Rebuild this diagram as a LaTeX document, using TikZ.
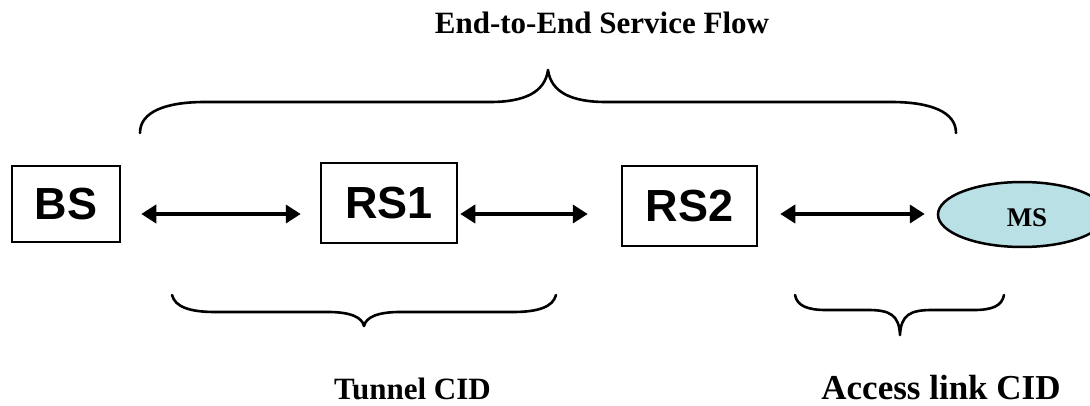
\documentclass[tikz,border=0pt]{standalone}
\usepackage{fontspec}
\setmainfont{Liberation Serif}
\newfontfamily\arialf{Liberation Sans}
\usetikzlibrary{arrows.meta,shapes.geometric}
\definecolor{msfill}{RGB}{185,224,228}
\begin{document}
\begin{tikzpicture}[x=1pt,y=-1pt,
  stn/.style={draw, line width=2.5pt, inner sep=0pt, font=\arialf\bfseries\fontsize{45}{50}\selectfont},
  lbl/.style={inner sep=0pt, font=\bfseries\fontsize{31}{36}\selectfont},
  arr/.style={line width=4pt, {Triangle[length=15pt,width=18pt]}-{Triangle[length=15pt,width=18pt]}},
  brace/.style={line width=2.6pt, line cap=round, line join=round}]
\useasboundingbox (0,0) rectangle (1090,406);
\clip (0,0) rectangle (1090,406);
% stations
\node[stn, minimum width=108pt, minimum height=76pt] (BS) at (66,204) {BS};
\node[stn, minimum width=136pt, minimum height=80pt] (RS1) at (389,203) {RS1};
\node[stn, minimum width=135pt, minimum height=80pt] (RS2) at (689.5,206) {RS2};
\node[draw, line width=2.5pt, fill=msfill, ellipse, minimum width=168pt, minimum height=65pt, inner sep=0pt] (MS) at (1022,214.5) {};
\node[inner sep=0pt, font=\bfseries\fontsize{27}{30}\selectfont] (MSt) at (1027,218) {MS};
% arrows
\coordinate (ay) at (0,214);
\draw[arr, shorten <=20pt, shorten >=19pt] (BS.east |- ay) -- (RS1.west |- ay);
\draw[arr, shorten <=2pt, shorten >=33pt] (RS1.east |- ay) -- (RS2.west |- ay);
\draw[arr, shorten <=22pt, shorten >=12pt] (RS2.east |- ay) -- (MS.west |- ay);
% braces
\draw[brace] (140,133) .. controls (140,112) and (165,102) .. (205,102) -- (490,102)
  .. controls (525,102) and (545,92) .. (548,70)
  .. controls (551,92) and (571,102) .. (606,102) -- (891,102)
  .. controls (931,102) and (956,112) .. (956,133);
\draw[brace] (172,295) .. controls (175,307) and (190,312) .. (215,312) -- (328,312)
  .. controls (350,312) and (362,317) .. (364,326)
  .. controls (366,317) and (378,312) .. (400,312) -- (513,312)
  .. controls (538,312) and (553,307) .. (556,295);
\draw[brace] (795,295) .. controls (797,306) and (808,310) .. (826,310) -- (868,310)
  .. controls (890,310) and (899,315) .. (900,335)
  .. controls (901,315) and (910,310) .. (932,310) -- (974,310)
  .. controls (992,310) and (1002,306) .. (1004,295);
% labels
\node[lbl] (top) at (602,23) {End-to-End Service Flow};
\node[lbl] (tun) at (412.5,389) {Tunnel CID};
\node[inner sep=0pt, font=\bfseries\fontsize{35}{40}\selectfont] (acc) at (941,388) {Access link CID};
\end{tikzpicture}
\end{document}
